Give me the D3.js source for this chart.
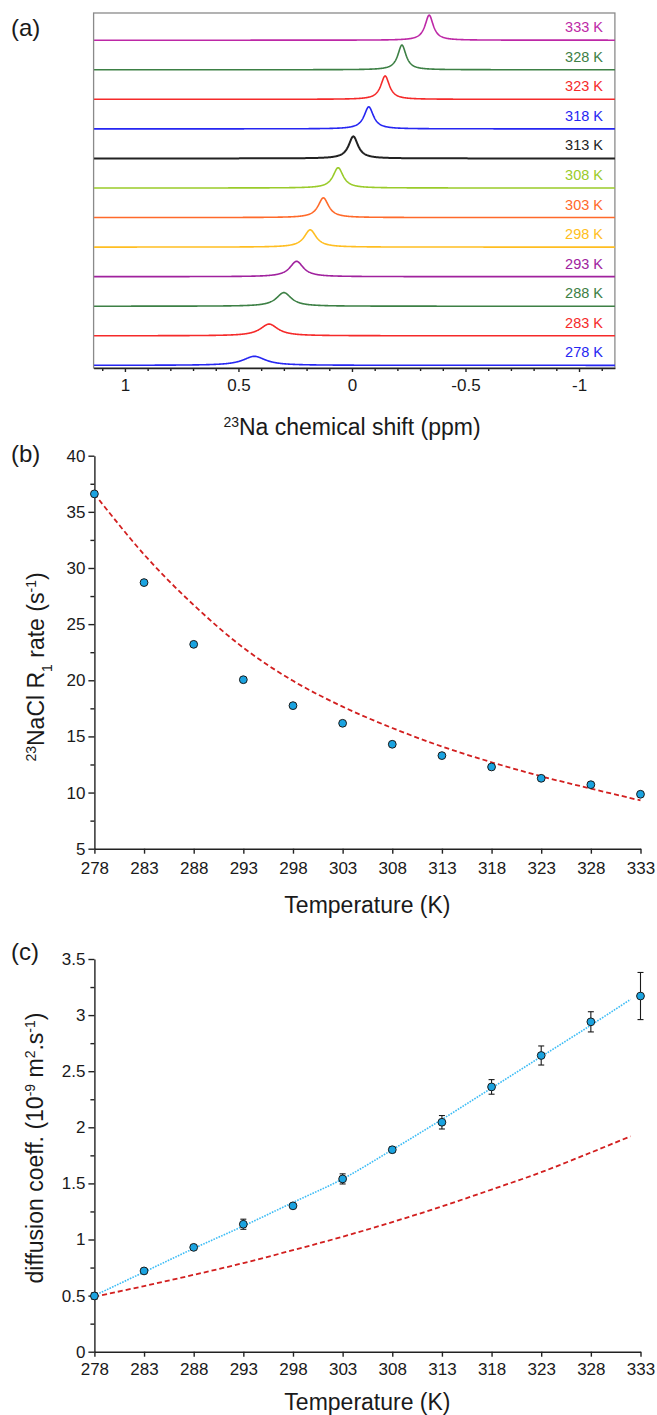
<!DOCTYPE html>
<html>
<head>
<meta charset="UTF-8">
<script src="https://cdn.jsdelivr.net/npm/d3@7"></script>
<style>
body { margin: 0; background: #fff; font-family: Arial, 'Liberation Sans', sans-serif; }
svg { display: block; }
text { fill: #1a1a1a; }
.axis path, .axis line { stroke: #222; stroke-width: 1.4; }
.axis .tick text { font-size: 17px; font-family: Arial, 'Liberation Sans', sans-serif; fill: #1a1a1a; }
.title { font-size: 23px; }
.panel { font-size: 24px; }
.tlabel { font-size: 14.5px; }
</style>
</head>
<body>
<svg width="657" height="1415"></svg>
<script>
// ---- panel (a): 23Na spectra ----
const temps = [278, 283, 288, 293, 298, 303, 308, 313, 318, 323, 328, 333];
const peakShift = [0.43, 0.365, 0.30, 0.244, 0.184, 0.126, 0.061, -0.006, -0.074, -0.146, -0.22, -0.34];
const peakHeight = [0.305, 0.396, 0.46, 0.52, 0.585, 0.667, 0.687, 0.745, 0.745, 0.79, 0.836, 0.846];
const peakWidth = [0.060, 0.047, 0.040, 0.036, 0.032, 0.028, 0.027, 0.025, 0.025, 0.023, 0.022, 0.022];
const traceColors = ['#2626f2', '#f52a2a', '#3d8045', '#a0229e', '#ffbe22', '#ff6a2a', '#9acb2a', '#222222', '#2626f2', '#f52a2a', '#3d8045', '#bd28a6'];
const shiftTicks = [1, 0.5, 0, -0.5, -1];
const shiftMinor = [1.1, 0.9, 0.8, 0.7, 0.6, 0.4, 0.3, 0.2, 0.1, -0.1, -0.2, -0.3, -0.4, -0.6, -0.7, -0.8, -0.9, -1.1];

// ---- panel (b): R1 rate ----
const r1Rate = [36.6, 28.7, 23.2, 20.05, 17.74, 16.17, 14.3, 13.29, 12.28, 11.27, 10.7, 9.85];
const r1Fit = [36.6, 31.2, 26.7, 22.9, 19.95, 17.65, 15.75, 14.1, 12.7, 11.45, 10.35, 9.3];
const r1Ticks = [5, 10, 15, 20, 25, 30, 35, 40];
const r1Minor = [7.5, 12.5, 17.5, 22.5, 27.5, 32.5, 37.5];

// ---- panel (c): diffusion coefficient ----
const diffCoef = [0.497, 0.72, 0.93, 1.136, 1.30, 1.54, 1.80, 2.045, 2.36, 2.64, 2.94, 3.17];
const diffErr = [0.03, 0.02, 0.02, 0.045, 0.02, 0.045, 0.025, 0.06, 0.065, 0.085, 0.09, 0.21];
const fitTemps = [278, 283, 288, 293, 298, 303, 308, 313, 318, 323, 328, 332];
const diffFit = [0.50, 0.71, 0.92, 1.12, 1.33, 1.54, 1.80, 2.07, 2.35, 2.63, 2.91, 3.14];
const diffModel = [0.49, 0.585, 0.685, 0.79, 0.905, 1.025, 1.155, 1.295, 1.445, 1.60, 1.775, 1.92];
const diffTicks = [0, 0.5, 1, 1.5, 2, 2.5, 3, 3.5];
const diffMinor = [0.25, 0.75, 1.25, 1.75, 2.25, 2.75, 3.25];

const svg = d3.select('svg');

function sup(t, s, size) {
  t.append('tspan').attr('font-size', size).attr('baseline-shift', 'super').text(s);
}

// ================= (a) =================
const xA = d3.scaleLinear().domain([1.138, -1.158]).range([93.6, 614.9]);
const yA = d3.scaleLinear().domain([-0.09, 11.92]).range([368, 13]);

svg.append('rect')
  .attr('x', xA.range()[0]).attr('y', yA.range()[1])
  .attr('width', xA.range()[1] - xA.range()[0])
  .attr('height', yA.range()[0] - yA.range()[1])
  .attr('fill', 'none').attr('stroke', '#8a8a8a').attr('stroke-width', 1.3);

const grid = d3.range(-1.158, 1.138, 0.002);
const specLine = d3.line().x(p => xA(p[0])).y(p => yA(p[1]));

temps.forEach((t, i) => {
  const pts = grid.map(s => {
    const u = (s - peakShift[i]) / peakWidth[i];
    return [s, i + peakHeight[i] / (1 + u * u)];
  });
  svg.append('path')
    .attr('d', specLine(pts))
    .attr('fill', 'none')
    .attr('stroke', traceColors[i])
    .attr('stroke-width', t === 313 ? 2 : 1.6);
  svg.append('text')
    .attr('class', 'tlabel')
    .attr('x', 603)
    .attr('y', yA(i) - 8)
    .attr('text-anchor', 'end')
    .style('fill', traceColors[i])
    .text(t + ' K');
});

svg.append('g').attr('class', 'axis')
  .attr('transform', `translate(0,${yA.range()[0]})`)
  .call(d3.axisBottom(xA).tickValues(shiftTicks).tickSize(4).tickSizeOuter(0).tickPadding(7)
    .tickFormat(d => String(d)));
svg.append('g').attr('class', 'axis')
  .attr('transform', `translate(0,${yA.range()[0]})`)
  .call(d3.axisBottom(xA).tickValues(shiftMinor).tickSize(3).tickFormat(''))
  .select('.domain').remove();

const tA = svg.append('text').attr('class', 'title')
  .attr('x', 352).attr('y', 435).attr('text-anchor', 'middle');
sup(tA, '23', '14px');
tA.append('tspan').text('Na chemical shift (ppm)');

svg.append('text').attr('class', 'panel').attr('x', 11).attr('y', 36).text('(a)');

// ================= (b) =================
const xT = d3.scaleLinear().domain([278, 333]).range([94.4, 640.5]);
const yB = d3.scaleLinear().domain([5, 40]).range([848.7, 455.7]);

svg.append('g').attr('class', 'axis')
  .attr('transform', `translate(${xT.range()[0]},0)`)
  .call(d3.axisLeft(yB).tickValues(r1Ticks).tickSize(6).tickSizeOuter(0).tickPadding(3));
svg.append('g').attr('class', 'axis')
  .attr('transform', `translate(${xT.range()[0]},0)`)
  .call(d3.axisLeft(yB).tickValues(r1Minor).tickSize(4).tickFormat(''))
  .select('.domain').remove();
svg.append('g').attr('class', 'axis')
  .attr('transform', `translate(0,${yB.range()[0]})`)
  .call(d3.axisBottom(xT).tickValues(temps).tickSize(5).tickSizeOuter(0).tickPadding(8));

svg.append('path')
  .attr('d', d3.line().curve(d3.curveCatmullRom.alpha(0.5)).x((d, i) => xT(temps[i])).y(d => yB(d))(r1Fit))
  .attr('fill', 'none').attr('stroke', '#d21f1f').attr('stroke-width', 1.8)
  .attr('stroke-dasharray', '5,3');

svg.append('g').selectAll('circle').data(r1Rate).join('circle')
  .attr('cx', (d, i) => xT(temps[i])).attr('cy', d => yB(d)).attr('r', 3.9)
  .attr('fill', '#1aa3e0').attr('stroke', '#1a1a1a').attr('stroke-width', 1);

svg.append('text').attr('class', 'title')
  .attr('x', (xT.range()[0] + xT.range()[1]) / 2).attr('y', 913)
  .attr('text-anchor', 'middle').text('Temperature (K)');

const tB = svg.append('text').attr('class', 'title')
  .attr('transform', 'translate(44,667) rotate(-90)').attr('text-anchor', 'middle');
sup(tB, '23', '14px');
tB.append('tspan').text('NaCl R');
tB.append('tspan').attr('font-size', '14px').attr('baseline-shift', 'sub').text('1');
tB.append('tspan').text(' rate (s');
sup(tB, '-1', '14px');
tB.append('tspan').text(')');

svg.append('text').attr('class', 'panel').attr('x', 11).attr('y', 462).text('(b)');

// ================= (c) =================
const yC = d3.scaleLinear().domain([0, 3.5]).range([1351.7, 959]);

svg.append('g').attr('class', 'axis')
  .attr('transform', `translate(${xT.range()[0]},0)`)
  .call(d3.axisLeft(yC).tickValues(diffTicks).tickSize(6).tickSizeOuter(0).tickPadding(3)
    .tickFormat(d => String(d)));
svg.append('g').attr('class', 'axis')
  .attr('transform', `translate(${xT.range()[0]},0)`)
  .call(d3.axisLeft(yC).tickValues(diffMinor).tickSize(4).tickFormat(''))
  .select('.domain').remove();
svg.append('g').attr('class', 'axis')
  .attr('transform', `translate(0,${yC.range()[0]})`)
  .call(d3.axisBottom(xT).tickValues(temps).tickSize(5).tickSizeOuter(0).tickPadding(6));

svg.append('path')
  .attr('d', d3.line().curve(d3.curveCatmullRom.alpha(0.5)).x((d, i) => xT(fitTemps[i])).y(d => yC(d))(diffModel))
  .attr('fill', 'none').attr('stroke', '#d21f1f').attr('stroke-width', 1.8)
  .attr('stroke-dasharray', '5,3');
svg.append('path')
  .attr('d', d3.line().curve(d3.curveCatmullRom.alpha(0.5)).x((d, i) => xT(fitTemps[i])).y(d => yC(d))(diffFit))
  .attr('fill', 'none').attr('stroke', '#3cbcf5').attr('stroke-width', 1.6)
  .attr('stroke-dasharray', '1.6,1.2');

const eb = svg.append('g').attr('stroke', '#1a1a1a').attr('stroke-width', 1.1);
diffCoef.forEach((v, i) => {
  const x = xT(temps[i]), lo = yC(v - diffErr[i]), hi = yC(v + diffErr[i]);
  eb.append('line').attr('x1', x).attr('x2', x).attr('y1', lo).attr('y2', hi);
  eb.append('line').attr('x1', x - 3).attr('x2', x + 3).attr('y1', lo).attr('y2', lo);
  eb.append('line').attr('x1', x - 3).attr('x2', x + 3).attr('y1', hi).attr('y2', hi);
});

svg.append('g').selectAll('circle').data(diffCoef).join('circle')
  .attr('cx', (d, i) => xT(temps[i])).attr('cy', d => yC(d)).attr('r', 3.9)
  .attr('fill', '#1aa3e0').attr('stroke', '#1a1a1a').attr('stroke-width', 1);

svg.append('text').attr('class', 'title')
  .attr('x', (xT.range()[0] + xT.range()[1]) / 2).attr('y', 1410)
  .attr('text-anchor', 'middle').text('Temperature (K)');

const tC = svg.append('text').attr('class', 'title')
  .attr('transform', 'translate(42.5,1148) rotate(-90)').attr('text-anchor', 'middle');
tC.append('tspan').text('diffusion coeff. (10');
sup(tC, '-9', '14px');
tC.append('tspan').text(' m');
sup(tC, '2', '14px');
tC.append('tspan').text('.s');
sup(tC, '-1', '14px');
tC.append('tspan').text(')');

svg.append('text').attr('class', 'panel').attr('x', 11).attr('y', 960).text('(c)');
</script>
</body>
</html>
